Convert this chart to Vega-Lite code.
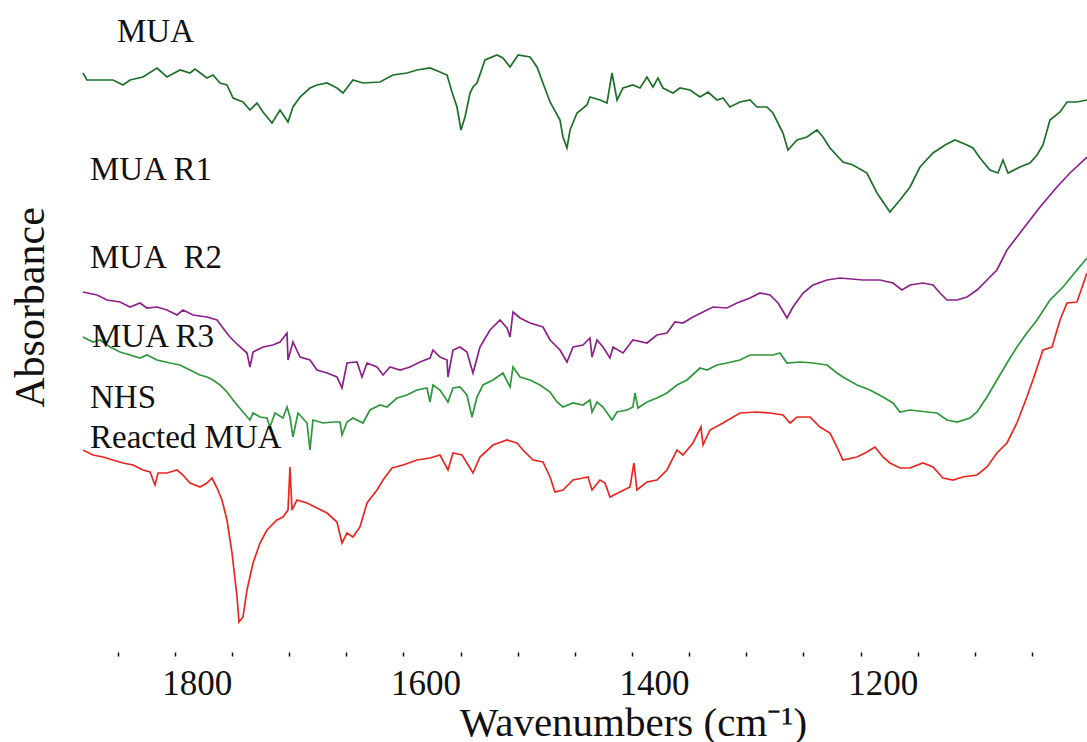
{
  "$schema": "https://vega.github.io/schema/vega-lite/v6.json",
  "width": 1006,
  "height": 640,
  "autosize": {"type": "none"},
  "padding": {"left": 81, "top": 12, "right": 0, "bottom": 90},
  "background": "white",
  "config": {"view": {"stroke": null}},
  "datasets": {
    "spectra": [
      {"s":"A","w":1880.3,"a":57.9},{"s":"A","w":1876.8,"a":57.2},{"s":"A","w":1865.4,"a":57.2},{"s":"A","w":1854.0,"a":57.2},{"s":"A","w":1845.3,"a":56.7},{"s":"A","w":1839.1,"a":57.2},{"s":"A","w":1827.8,"a":57.5},{"s":"A","w":1815.5,"a":58.4},{"s":"A","w":1806.8,"a":57.5},{"s":"A","w":1795.4,"a":58.2},{"s":"A","w":1786.7,"a":57.9},{"s":"A","w":1782.3,"a":58.3},{"s":"A","w":1771.8,"a":57.4},{"s":"A","w":1766.5,"a":57.7},{"s":"A","w":1760.4,"a":56.9},{"s":"A","w":1754.3,"a":56.7},{"s":"A","w":1749.0,"a":55.4},{"s":"A","w":1740.3,"a":55.0},{"s":"A","w":1734.2,"a":54.2},{"s":"A","w":1728.0,"a":54.9},{"s":"A","w":1722.8,"a":54.0},{"s":"A","w":1714.9,"a":52.9},{"s":"A","w":1707.9,"a":54.2},{"s":"A","w":1700.9,"a":53.0},{"s":"A","w":1696.6,"a":54.5},{"s":"A","w":1690.4,"a":55.5},{"s":"A","w":1681.7,"a":56.4},{"s":"A","w":1675.6,"a":56.7},{"s":"A","w":1666.8,"a":56.9},{"s":"A","w":1658.1,"a":56.4},{"s":"A","w":1652.8,"a":55.9},{"s":"A","w":1644.1,"a":57.2},{"s":"A","w":1635.3,"a":56.9},{"s":"A","w":1620.5,"a":57.0},{"s":"A","w":1609.1,"a":57.7},{"s":"A","w":1596.8,"a":57.9},{"s":"A","w":1588.1,"a":58.2},{"s":"A","w":1576.7,"a":58.4},{"s":"A","w":1568.0,"a":58.0},{"s":"A","w":1561.8,"a":57.7},{"s":"A","w":1557.5,"a":56.0},{"s":"A","w":1553.1,"a":54.5},{"s":"A","w":1549.6,"a":52.2},{"s":"A","w":1546.1,"a":53.5},{"s":"A","w":1541.7,"a":55.9},{"s":"A","w":1539.1,"a":56.5},{"s":"A","w":1535.6,"a":56.9},{"s":"A","w":1528.6,"a":59.2},{"s":"A","w":1518.1,"a":59.7},{"s":"A","w":1512.9,"a":59.4},{"s":"A","w":1506.7,"a":58.5},{"s":"A","w":1499.7,"a":59.7},{"s":"A","w":1489.2,"a":59.5},{"s":"A","w":1483.1,"a":58.5},{"s":"A","w":1477.9,"a":56.9},{"s":"A","w":1471.7,"a":55.0},{"s":"A","w":1463.0,"a":53.2},{"s":"A","w":1460.4,"a":51.5},{"s":"A","w":1456.9,"a":50.4},{"s":"A","w":1454.2,"a":52.2},{"s":"A","w":1448.1,"a":53.9},{"s":"A","w":1439.4,"a":54.7},{"s":"A","w":1436.8,"a":55.5},{"s":"A","w":1428.0,"a":55.2},{"s":"A","w":1421.9,"a":54.9},{"s":"A","w":1417.5,"a":57.9},{"s":"A","w":1413.1,"a":55.2},{"s":"A","w":1407.9,"a":56.4},{"s":"A","w":1399.2,"a":56.7},{"s":"A","w":1393.0,"a":56.4},{"s":"A","w":1386.9,"a":57.5},{"s":"A","w":1381.7,"a":56.5},{"s":"A","w":1377.3,"a":57.4},{"s":"A","w":1372.9,"a":56.4},{"s":"A","w":1364.2,"a":55.9},{"s":"A","w":1358.0,"a":56.4},{"s":"A","w":1349.3,"a":56.2},{"s":"A","w":1340.5,"a":55.5},{"s":"A","w":1333.5,"a":56.0},{"s":"A","w":1325.7,"a":55.2},{"s":"A","w":1320.4,"a":55.4},{"s":"A","w":1314.3,"a":54.5},{"s":"A","w":1305.6,"a":55.0},{"s":"A","w":1296.8,"a":55.2},{"s":"A","w":1290.7,"a":54.5},{"s":"A","w":1282.0,"a":54.5},{"s":"A","w":1276.7,"a":53.9},{"s":"A","w":1270.6,"a":52.5},{"s":"A","w":1267.9,"a":51.9},{"s":"A","w":1263.6,"a":50.2},{"s":"A","w":1255.7,"a":51.2},{"s":"A","w":1247.0,"a":51.5},{"s":"A","w":1238.2,"a":52.2},{"s":"A","w":1233.0,"a":51.5},{"s":"A","w":1226.8,"a":50.4},{"s":"A","w":1215.5,"a":49.0},{"s":"A","w":1206.7,"a":48.7},{"s":"A","w":1194.5,"a":47.9},{"s":"A","w":1185.7,"a":45.9},{"s":"A","w":1174.4,"a":44.0},{"s":"A","w":1165.6,"a":45.2},{"s":"A","w":1156.8,"a":46.5},{"s":"A","w":1148.1,"a":48.5},{"s":"A","w":1136.7,"a":49.9},{"s":"A","w":1126.2,"a":50.7},{"s":"A","w":1117.5,"a":51.2},{"s":"A","w":1107.0,"a":50.7},{"s":"A","w":1101.7,"a":50.4},{"s":"A","w":1095.6,"a":49.4},{"s":"A","w":1086.9,"a":48.2},{"s":"A","w":1079.9,"a":47.9},{"s":"A","w":1075.5,"a":49.2},{"s":"A","w":1071.1,"a":47.9},{"s":"A","w":1060.6,"a":48.5},{"s":"A","w":1051.9,"a":48.9},{"s":"A","w":1045.7,"a":49.7},{"s":"A","w":1040.5,"a":50.7},{"s":"A","w":1034.4,"a":53.2},{"s":"A","w":1025.6,"a":54.0},{"s":"A","w":1019.5,"a":55.0},{"s":"A","w":1010.8,"a":55.0},{"s":"A","w":1002.0,"a":55.2},
      {"s":"B","w":1880.3,"a":36.0},{"s":"B","w":1868.0,"a":35.7},{"s":"B","w":1859.3,"a":35.2},{"s":"B","w":1847.9,"a":35.0},{"s":"B","w":1839.1,"a":34.5},{"s":"B","w":1830.4,"a":34.9},{"s":"B","w":1824.3,"a":34.4},{"s":"B","w":1815.5,"a":34.5},{"s":"B","w":1806.8,"a":34.2},{"s":"B","w":1798.0,"a":33.7},{"s":"B","w":1792.8,"a":34.2},{"s":"B","w":1784.0,"a":33.7},{"s":"B","w":1771.8,"a":33.5},{"s":"B","w":1763.0,"a":33.2},{"s":"B","w":1757.8,"a":32.4},{"s":"B","w":1751.7,"a":31.5},{"s":"B","w":1744.7,"a":30.7},{"s":"B","w":1736.8,"a":29.9},{"s":"B","w":1734.2,"a":28.5},{"s":"B","w":1731.5,"a":30.0},{"s":"B","w":1722.8,"a":30.5},{"s":"B","w":1714.1,"a":30.7},{"s":"B","w":1707.9,"a":31.0},{"s":"B","w":1701.8,"a":31.9},{"s":"B","w":1700.9,"a":29.2},{"s":"B","w":1696.6,"a":31.0},{"s":"B","w":1690.4,"a":29.5},{"s":"B","w":1681.7,"a":29.2},{"s":"B","w":1675.6,"a":28.2},{"s":"B","w":1666.8,"a":27.9},{"s":"B","w":1658.1,"a":27.5},{"s":"B","w":1653.7,"a":26.4},{"s":"B","w":1649.3,"a":28.9},{"s":"B","w":1640.6,"a":29.0},{"s":"B","w":1636.2,"a":27.5},{"s":"B","w":1631.8,"a":28.9},{"s":"B","w":1623.1,"a":28.5},{"s":"B","w":1617.8,"a":27.7},{"s":"B","w":1611.7,"a":28.5},{"s":"B","w":1602.9,"a":28.2},{"s":"B","w":1594.2,"a":28.5},{"s":"B","w":1585.5,"a":29.0},{"s":"B","w":1576.7,"a":29.4},{"s":"B","w":1574.1,"a":30.2},{"s":"B","w":1568.0,"a":29.5},{"s":"B","w":1561.8,"a":29.2},{"s":"B","w":1561.0,"a":27.5},{"s":"B","w":1556.6,"a":30.2},{"s":"B","w":1550.5,"a":30.5},{"s":"B","w":1544.4,"a":30.0},{"s":"B","w":1539.1,"a":27.9},{"s":"B","w":1533.0,"a":30.5},{"s":"B","w":1524.2,"a":32.2},{"s":"B","w":1515.5,"a":33.2},{"s":"B","w":1509.4,"a":32.4},{"s":"B","w":1506.7,"a":31.5},{"s":"B","w":1504.1,"a":34.0},{"s":"B","w":1498.0,"a":33.4},{"s":"B","w":1489.2,"a":32.9},{"s":"B","w":1477.9,"a":32.5},{"s":"B","w":1471.7,"a":31.2},{"s":"B","w":1463.0,"a":30.2},{"s":"B","w":1456.9,"a":29.0},{"s":"B","w":1451.6,"a":30.5},{"s":"B","w":1442.9,"a":30.7},{"s":"B","w":1436.8,"a":31.4},{"s":"B","w":1435.0,"a":29.5},{"s":"B","w":1430.6,"a":31.2},{"s":"B","w":1425.4,"a":30.5},{"s":"B","w":1419.3,"a":29.4},{"s":"B","w":1416.6,"a":30.5},{"s":"B","w":1407.9,"a":29.9},{"s":"B","w":1399.2,"a":31.2},{"s":"B","w":1386.9,"a":30.9},{"s":"B","w":1378.2,"a":31.7},{"s":"B","w":1369.4,"a":31.9},{"s":"B","w":1362.4,"a":33.0},{"s":"B","w":1355.4,"a":32.9},{"s":"B","w":1346.7,"a":33.5},{"s":"B","w":1337.9,"a":34.0},{"s":"B","w":1329.2,"a":34.5},{"s":"B","w":1316.9,"a":34.4},{"s":"B","w":1308.2,"a":34.9},{"s":"B","w":1296.8,"a":35.4},{"s":"B","w":1288.1,"a":35.9},{"s":"B","w":1279.3,"a":35.7},{"s":"B","w":1272.3,"a":34.9},{"s":"B","w":1264.4,"a":33.4},{"s":"B","w":1259.2,"a":34.5},{"s":"B","w":1250.4,"a":35.9},{"s":"B","w":1241.7,"a":36.7},{"s":"B","w":1229.4,"a":37.2},{"s":"B","w":1218.1,"a":37.4},{"s":"B","w":1197.9,"a":37.2},{"s":"B","w":1183.1,"a":37.2},{"s":"B","w":1171.7,"a":36.9},{"s":"B","w":1163.9,"a":36.2},{"s":"B","w":1156.8,"a":36.7},{"s":"B","w":1145.5,"a":36.9},{"s":"B","w":1136.7,"a":36.7},{"s":"B","w":1130.6,"a":35.9},{"s":"B","w":1124.5,"a":35.2},{"s":"B","w":1115.7,"a":35.2},{"s":"B","w":1107.0,"a":35.5},{"s":"B","w":1098.2,"a":36.2},{"s":"B","w":1089.5,"a":37.2},{"s":"B","w":1080.8,"a":38.2},{"s":"B","w":1072.0,"a":40.2},{"s":"B","w":1063.3,"a":41.5},{"s":"B","w":1051.9,"a":43.2},{"s":"B","w":1043.1,"a":44.5},{"s":"B","w":1028.3,"a":46.5},{"s":"B","w":1016.9,"a":47.9},{"s":"B","w":1002.0,"a":49.5},
      {"s":"C","w":1880.3,"a":31.5},{"s":"C","w":1871.5,"a":31.0},{"s":"C","w":1865.4,"a":31.2},{"s":"C","w":1856.6,"a":30.5},{"s":"C","w":1847.9,"a":30.0},{"s":"C","w":1839.1,"a":29.7},{"s":"C","w":1830.4,"a":29.4},{"s":"C","w":1824.3,"a":29.7},{"s":"C","w":1815.5,"a":29.2},{"s":"C","w":1804.1,"a":28.9},{"s":"C","w":1795.4,"a":28.7},{"s":"C","w":1786.7,"a":28.2},{"s":"C","w":1777.9,"a":27.7},{"s":"C","w":1771.8,"a":27.5},{"s":"C","w":1766.5,"a":27.2},{"s":"C","w":1760.4,"a":26.7},{"s":"C","w":1754.3,"a":26.0},{"s":"C","w":1749.0,"a":25.2},{"s":"C","w":1740.3,"a":24.0},{"s":"C","w":1734.2,"a":23.2},{"s":"C","w":1731.5,"a":23.9},{"s":"C","w":1725.4,"a":23.5},{"s":"C","w":1719.3,"a":23.4},{"s":"C","w":1716.7,"a":22.5},{"s":"C","w":1712.3,"a":23.9},{"s":"C","w":1705.3,"a":23.4},{"s":"C","w":1701.8,"a":24.5},{"s":"C","w":1699.2,"a":23.5},{"s":"C","w":1696.6,"a":21.5},{"s":"C","w":1692.2,"a":23.9},{"s":"C","w":1684.3,"a":22.9},{"s":"C","w":1681.7,"a":20.2},{"s":"C","w":1679.1,"a":23.2},{"s":"C","w":1670.3,"a":22.9},{"s":"C","w":1661.6,"a":23.0},{"s":"C","w":1655.4,"a":23.0},{"s":"C","w":1653.7,"a":21.7},{"s":"C","w":1649.3,"a":23.0},{"s":"C","w":1644.1,"a":23.4},{"s":"C","w":1635.3,"a":22.9},{"s":"C","w":1629.2,"a":24.2},{"s":"C","w":1620.5,"a":24.7},{"s":"C","w":1614.3,"a":24.5},{"s":"C","w":1605.6,"a":25.4},{"s":"C","w":1596.8,"a":25.7},{"s":"C","w":1588.1,"a":26.2},{"s":"C","w":1579.4,"a":26.4},{"s":"C","w":1576.7,"a":25.0},{"s":"C","w":1574.1,"a":26.7},{"s":"C","w":1568.0,"a":26.2},{"s":"C","w":1561.0,"a":25.0},{"s":"C","w":1556.6,"a":26.4},{"s":"C","w":1550.5,"a":26.5},{"s":"C","w":1544.4,"a":25.7},{"s":"C","w":1540.0,"a":23.5},{"s":"C","w":1535.6,"a":25.5},{"s":"C","w":1530.4,"a":26.7},{"s":"C","w":1521.6,"a":27.2},{"s":"C","w":1512.9,"a":27.9},{"s":"C","w":1506.7,"a":26.5},{"s":"C","w":1504.1,"a":28.5},{"s":"C","w":1498.0,"a":27.5},{"s":"C","w":1489.2,"a":27.2},{"s":"C","w":1480.5,"a":26.7},{"s":"C","w":1471.7,"a":26.0},{"s":"C","w":1465.6,"a":25.0},{"s":"C","w":1460.4,"a":24.5},{"s":"C","w":1451.6,"a":24.9},{"s":"C","w":1442.9,"a":24.7},{"s":"C","w":1436.8,"a":25.2},{"s":"C","w":1435.0,"a":24.0},{"s":"C","w":1430.6,"a":25.0},{"s":"C","w":1425.4,"a":24.5},{"s":"C","w":1417.5,"a":23.2},{"s":"C","w":1413.1,"a":24.0},{"s":"C","w":1404.4,"a":24.2},{"s":"C","w":1399.2,"a":24.5},{"s":"C","w":1397.4,"a":25.9},{"s":"C","w":1394.8,"a":24.4},{"s":"C","w":1386.9,"a":25.0},{"s":"C","w":1378.2,"a":25.4},{"s":"C","w":1369.4,"a":25.9},{"s":"C","w":1360.7,"a":26.7},{"s":"C","w":1351.9,"a":27.2},{"s":"C","w":1340.5,"a":28.4},{"s":"C","w":1334.4,"a":28.2},{"s":"C","w":1325.7,"a":28.7},{"s":"C","w":1316.9,"a":28.9},{"s":"C","w":1305.6,"a":29.2},{"s":"C","w":1296.8,"a":29.7},{"s":"C","w":1285.4,"a":29.7},{"s":"C","w":1276.7,"a":29.7},{"s":"C","w":1270.6,"a":29.9},{"s":"C","w":1264.4,"a":28.9},{"s":"C","w":1253.1,"a":29.0},{"s":"C","w":1241.7,"a":28.9},{"s":"C","w":1229.4,"a":28.7},{"s":"C","w":1220.7,"a":27.9},{"s":"C","w":1215.5,"a":27.5},{"s":"C","w":1203.2,"a":26.7},{"s":"C","w":1191.8,"a":26.2},{"s":"C","w":1180.5,"a":25.5},{"s":"C","w":1171.7,"a":24.9},{"s":"C","w":1165.6,"a":24.0},{"s":"C","w":1156.8,"a":24.2},{"s":"C","w":1142.0,"a":24.0},{"s":"C","w":1133.2,"a":23.9},{"s":"C","w":1124.5,"a":23.2},{"s":"C","w":1115.7,"a":23.0},{"s":"C","w":1104.3,"a":23.4},{"s":"C","w":1098.2,"a":24.0},{"s":"C","w":1089.5,"a":25.5},{"s":"C","w":1080.8,"a":27.2},{"s":"C","w":1072.0,"a":28.9},{"s":"C","w":1063.3,"a":30.5},{"s":"C","w":1054.6,"a":31.9},{"s":"C","w":1045.7,"a":33.2},{"s":"C","w":1034.4,"a":35.2},{"s":"C","w":1023.0,"a":36.5},{"s":"C","w":1010.8,"a":38.2},{"s":"C","w":1002.0,"a":39.4},
      {"s":"D","w":1880.3,"a":20.2},{"s":"D","w":1871.5,"a":19.7},{"s":"D","w":1862.8,"a":19.5},{"s":"D","w":1854.0,"a":19.2},{"s":"D","w":1845.3,"a":18.9},{"s":"D","w":1836.5,"a":18.7},{"s":"D","w":1827.8,"a":18.2},{"s":"D","w":1821.6,"a":18.0},{"s":"D","w":1817.3,"a":16.7},{"s":"D","w":1814.6,"a":17.9},{"s":"D","w":1806.8,"a":17.9},{"s":"D","w":1798.0,"a":18.2},{"s":"D","w":1792.8,"a":17.7},{"s":"D","w":1786.7,"a":16.9},{"s":"D","w":1777.9,"a":16.5},{"s":"D","w":1771.8,"a":16.9},{"s":"D","w":1767.4,"a":17.4},{"s":"D","w":1763.0,"a":16.4},{"s":"D","w":1758.7,"a":15.2},{"s":"D","w":1754.3,"a":13.2},{"s":"D","w":1749.9,"a":9.9},{"s":"D","w":1745.5,"a":5.5},{"s":"D","w":1743.8,"a":3.0},{"s":"D","w":1740.3,"a":3.5},{"s":"D","w":1736.8,"a":6.2},{"s":"D","w":1731.5,"a":8.9},{"s":"D","w":1725.4,"a":10.9},{"s":"D","w":1719.3,"a":12.2},{"s":"D","w":1710.6,"a":13.2},{"s":"D","w":1705.3,"a":13.5},{"s":"D","w":1700.9,"a":14.2},{"s":"D","w":1699.2,"a":18.5},{"s":"D","w":1697.4,"a":14.2},{"s":"D","w":1693.1,"a":15.2},{"s":"D","w":1684.3,"a":14.9},{"s":"D","w":1675.6,"a":14.4},{"s":"D","w":1666.8,"a":13.9},{"s":"D","w":1658.1,"a":13.0},{"s":"D","w":1653.7,"a":10.9},{"s":"D","w":1649.3,"a":11.9},{"s":"D","w":1644.1,"a":11.5},{"s":"D","w":1638.0,"a":12.5},{"s":"D","w":1631.8,"a":14.9},{"s":"D","w":1623.1,"a":16.2},{"s":"D","w":1617.8,"a":17.2},{"s":"D","w":1610.0,"a":18.4},{"s":"D","w":1600.3,"a":18.7},{"s":"D","w":1588.1,"a":19.2},{"s":"D","w":1576.7,"a":19.4},{"s":"D","w":1568.0,"a":19.7},{"s":"D","w":1561.0,"a":18.2},{"s":"D","w":1556.6,"a":19.9},{"s":"D","w":1548.7,"a":19.7},{"s":"D","w":1539.1,"a":17.9},{"s":"D","w":1533.0,"a":19.5},{"s":"D","w":1521.6,"a":20.7},{"s":"D","w":1509.4,"a":21.2},{"s":"D","w":1500.6,"a":20.9},{"s":"D","w":1495.4,"a":20.2},{"s":"D","w":1486.6,"a":19.2},{"s":"D","w":1477.9,"a":19.0},{"s":"D","w":1471.7,"a":17.5},{"s":"D","w":1467.4,"a":16.0},{"s":"D","w":1460.4,"a":16.2},{"s":"D","w":1451.6,"a":17.2},{"s":"D","w":1442.9,"a":17.4},{"s":"D","w":1438.5,"a":17.5},{"s":"D","w":1435.0,"a":16.2},{"s":"D","w":1428.0,"a":17.2},{"s":"D","w":1423.6,"a":16.9},{"s":"D","w":1419.3,"a":15.5},{"s":"D","w":1410.5,"a":16.0},{"s":"D","w":1401.8,"a":16.5},{"s":"D","w":1398.3,"a":18.9},{"s":"D","w":1395.7,"a":16.2},{"s":"D","w":1386.9,"a":17.0},{"s":"D","w":1378.2,"a":17.2},{"s":"D","w":1369.4,"a":18.2},{"s":"D","w":1360.7,"a":20.2},{"s":"D","w":1355.4,"a":19.7},{"s":"D","w":1346.7,"a":20.9},{"s":"D","w":1339.7,"a":22.5},{"s":"D","w":1337.9,"a":20.7},{"s":"D","w":1331.8,"a":22.2},{"s":"D","w":1320.4,"a":22.9},{"s":"D","w":1305.6,"a":23.9},{"s":"D","w":1290.7,"a":24.0},{"s":"D","w":1279.3,"a":23.9},{"s":"D","w":1267.9,"a":23.7},{"s":"D","w":1261.8,"a":22.9},{"s":"D","w":1255.7,"a":23.5},{"s":"D","w":1244.3,"a":23.5},{"s":"D","w":1235.6,"a":22.5},{"s":"D","w":1226.8,"a":21.9},{"s":"D","w":1220.7,"a":20.5},{"s":"D","w":1215.5,"a":19.2},{"s":"D","w":1203.2,"a":19.5},{"s":"D","w":1194.5,"a":20.0},{"s":"D","w":1187.5,"a":20.5},{"s":"D","w":1180.5,"a":19.5},{"s":"D","w":1174.4,"a":18.9},{"s":"D","w":1165.6,"a":18.4},{"s":"D","w":1156.8,"a":18.4},{"s":"D","w":1145.5,"a":18.9},{"s":"D","w":1136.7,"a":18.5},{"s":"D","w":1128.0,"a":17.4},{"s":"D","w":1119.2,"a":17.2},{"s":"D","w":1110.7,"a":17.5},{"s":"D","w":1098.2,"a":17.7},{"s":"D","w":1089.5,"a":18.5},{"s":"D","w":1080.8,"a":19.9},{"s":"D","w":1072.0,"a":20.9},{"s":"D","w":1063.3,"a":22.9},{"s":"D","w":1054.6,"a":25.5},{"s":"D","w":1049.3,"a":27.2},{"s":"D","w":1040.5,"a":30.2},{"s":"D","w":1032.6,"a":30.5},{"s":"D","w":1025.6,"a":33.2},{"s":"D","w":1019.5,"a":34.9},{"s":"D","w":1010.8,"a":35.0},{"s":"D","w":1002.0,"a":37.9}
    ],
    "labels": [
      {"t":"MUA","w":1850.5,"a":61.0},
      {"t":"MUA R1","w":1874.1,"a":47.2},
      {"t":"MUA\u00a0 R2","w":1874.1,"a":38.4},
      {"t":"MUA R3","w":1872.4,"a":30.5},
      {"t":"NHS","w":1874.1,"a":24.4},
      {"t":"Reacted MUA","w":1874.1,"a":20.4}
    ]
  },
  "layer": [
    {
      "data": {"name": "spectra"},
      "mark": {"type": "line", "strokeWidth": 1.7, "interpolate": "linear"},
      "encoding": {
        "x": {
          "field": "w", "type": "quantitative",
          "scale": {"domain": [1002, 1882], "reverse": true, "nice": false, "zero": false},
          "axis": {
            "orient": "bottom",
            "values": [1850, 1800, 1750, 1700, 1650, 1600, 1550, 1500, 1450, 1400, 1350, 1300, 1250, 1200, 1150, 1100, 1050],
            "format": "d",
            "labelExpr": "datum.value % 200 == 0 ? datum.label : ''",
            "domain": false,
            "grid": false,
            "ticks": true,
            "tickColor": "#111111",
            "tickSize": 4,
            "tickWidth": 1.5,
            "labelFont": "Liberation Serif",
            "labelFontSize": 35,
            "labelColor": "#111111",
            "labelBaseline": "alphabetic",
            "labelPadding": 38,
            "labelOffset": 22,
            "labelFlush": false,
            "labelOverlap": false,
            "title": "Wavenumbers (cm\u207b\u00b9)",
            "titleFont": "Liberation Serif",
            "titleFontSize": 41,
            "titleFontWeight": "normal",
            "titleColor": "#111111",
            "titleX": 552,
            "titleY": 83,
            "titleAlign": "center",
            "titleBaseline": "alphabetic"
          }
        },
        "y": {
          "field": "a", "type": "quantitative",
          "scale": {"domain": [0, 64], "nice": false, "zero": false},
          "axis": {
            "title": "Absorbance",
            "labels": false,
            "ticks": false,
            "domain": false,
            "grid": false,
            "titleFont": "Liberation Serif",
            "titleFontSize": 42,
            "titleFontWeight": "normal",
            "titleColor": "#111111",
            "titleAngle": -90,
            "titleX": -38,
            "titleY": 295,
            "titleAlign": "center",
            "titleBaseline": "alphabetic"
          }
        },
        "color": {
          "field": "s", "type": "nominal",
          "scale": {"domain": ["A", "B", "C", "D"], "range": ["#1d7029", "#8c2189", "#2f963a", "#e8271f"]},
          "legend": null
        }
      }
    },
    {
      "data": {"name": "labels"},
      "mark": {"type": "text", "align": "left", "baseline": "alphabetic", "font": "Liberation Serif", "fontSize": 33, "color": "#111111"},
      "encoding": {
        "x": {"field": "w", "type": "quantitative"},
        "y": {"field": "a", "type": "quantitative"},
        "text": {"field": "t", "type": "nominal"}
      }
    }
  ]
}
